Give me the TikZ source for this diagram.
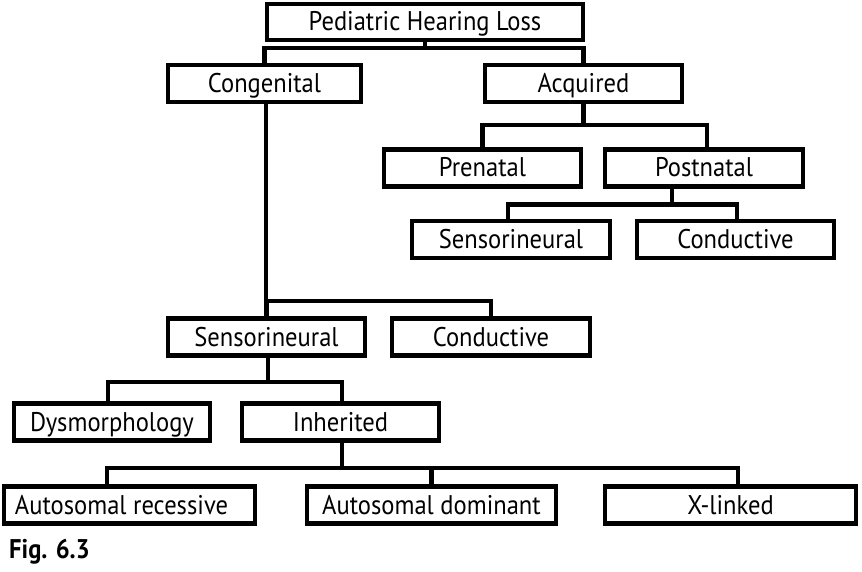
\documentclass[tikz,border=0pt]{standalone}
\usepackage{fontspec}
\setmainfont{PT Sans}[FakeStretch=0.91]
\usetikzlibrary{calc}
\begin{document}
\begin{tikzpicture}[x=1pt,y=1pt,
  box/.style={draw, line width=4.4pt, minimum height=37pt, inner sep=0pt,
    text height=22pt, text depth=4pt,
    font=\fontsize{27}{32}\selectfont},
  conn/.style={line width=4.4pt}]
\useasboundingbox[fill=white] (0,0) rectangle (862,-572);
% boxes
\node[box, minimum width=316pt, minimum height=36pt] (pedi) at (425,-22) {Pediatric Hearing Loss};
\node[box, minimum width=193pt] (cong) at (264.5,-83.5) {Congenital};
\node[box, minimum width=197pt] (acq) at (583.5,-83.5) {Acquired};
\node[box, minimum width=197pt] (pre) at (482.5,-168) {Prenatal};
\node[box, minimum width=198pt] (post) at (704,-168) {Postnatal};
\node[box, minimum width=198pt] (sensR) at (511,-239.5) {Sensorineural};
\node[box, minimum width=197pt] (condR) at (735.5,-239.5) {Conductive};
\node[box, minimum width=197pt] (sensL) at (266.5,-337) {Sensorineural};
\node[box, minimum width=198pt] (condL) at (491,-337) {Conductive};
\node[box, minimum width=196pt] (dys) at (112,-422) {Dysmorphology};
\node[box, minimum width=197pt] (inh) at (340.5,-422) {Inherited};
\node[box, minimum width=251pt] (ar) at (129.5,-505) {\hspace*{-16pt}Autosomal recessive};
\node[box, minimum width=249pt] (ad) at (431.5,-505) {Autosomal dominant};
\node[box, minimum width=251pt] (xl) at (730.5,-505) {X-linked};
\node[anchor=base west, inner sep=0pt, font=\bfseries\fontsize{27}{32}\selectfont] (fig) at (9,-558) {Fig. 6.3};
% connectors
\coordinate (b1) at ($(pedi.south)+(0,-6)$);
\draw[conn] (pedi.south) -- (b1);
\draw[conn] (cong.north) |- (b1) -| (acq.north);
\coordinate (b2) at ($(acq.south)+(0,-21)$);
\draw[conn] (acq.south) -- (b2);
\draw[conn] (pre.north) |- (b2) -| ([xshift=3pt]post.north);
\coordinate (b3) at ($([xshift=-32pt]post.south)+(0,-16)$);
\draw[conn] ([xshift=-32pt]post.south) -- (b3);
\draw[conn] ([xshift=-3pt]sensR.north) |- (b3) -| ([xshift=1.5pt]condR.north);
\coordinate (b4) at ($([xshift=1.5pt]cong.south)+(0,-197)$);
\draw[conn] ([xshift=1.5pt]cong.south) -- (b4) -| (condL.north);
\draw[conn] (sensL.north) -- (sensL.north |- b4);
\coordinate (b6) at ($([xshift=1.5pt]sensL.south)+(0,-24)$);
\draw[conn] ([xshift=1.5pt]sensL.south) -- (b6);
\draw[conn] ([xshift=-4pt]dys.north) |- (b6) -| ([xshift=1.5pt]inh.north);
\coordinate (b7) at ($([xshift=1.5pt]inh.south)+(0,-25)$);
\draw[conn] ([xshift=1.5pt]inh.south) -- (b7);
\draw[conn] ([xshift=-22.5pt]ar.north) |- (b7) -| ([xshift=7.5pt]xl.north);
\draw[conn] (b7 -| ad.north) -- (ad.north);
\end{tikzpicture}
\end{document}
